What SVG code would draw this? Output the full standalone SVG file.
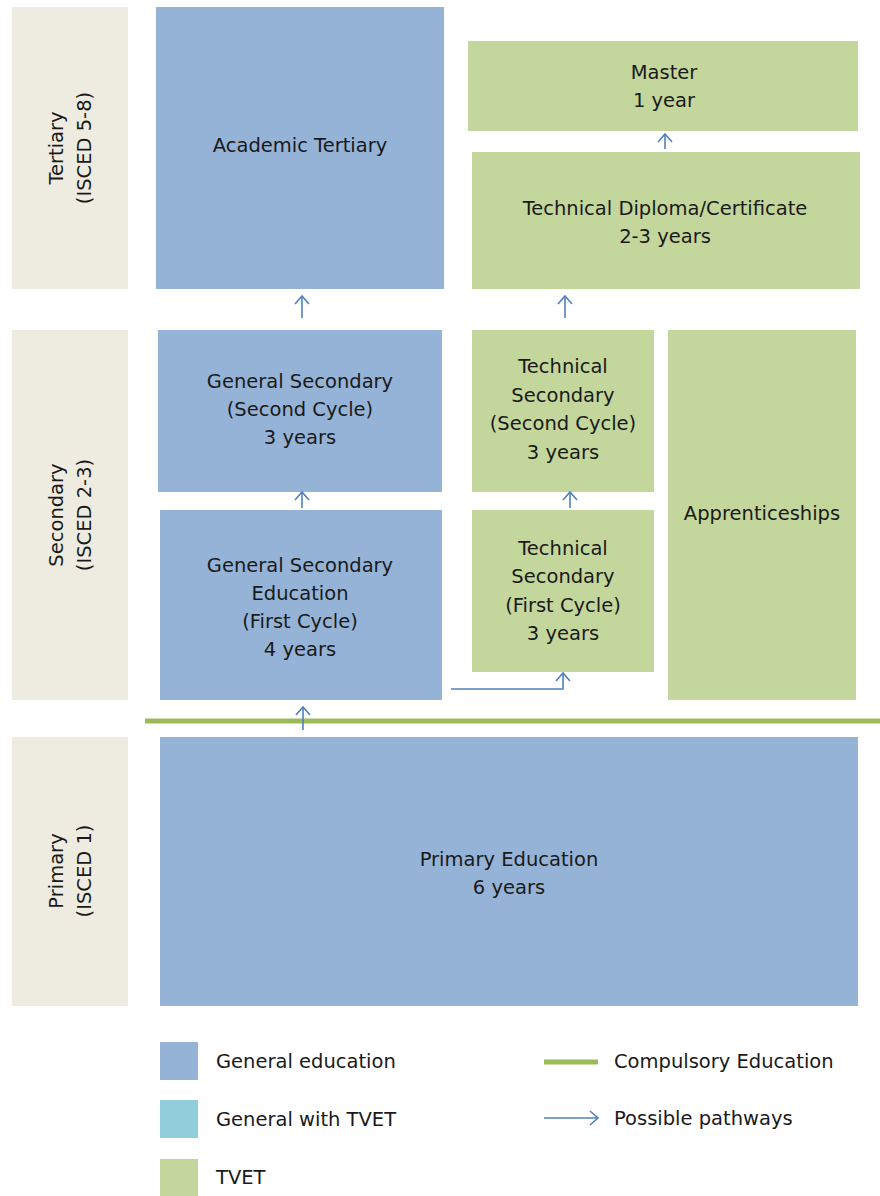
<svg xmlns="http://www.w3.org/2000/svg" width="880" height="1196" viewBox="0 0 880 1196">
<style>
text{font-family:"DejaVu Sans","Liberation Sans",sans-serif;font-size:19.5px;fill:#1a1a1a;text-anchor:middle}
.leg{text-anchor:start}
.gen{fill:#95B3D7}
.tvet{fill:#C3D69B}
.gtv{fill:#92CDDC}
.lvl{fill:#EEECE1}
.arr{fill:none;stroke:#4F81BD;stroke-width:1.6;marker-end:url(#ah)}
.comp{stroke:#9BBB59;stroke-width:5;fill:none}
</style>
<defs>
<marker id="ah" viewBox="-10 -10 20 20" markerUnits="userSpaceOnUse" markerWidth="20" markerHeight="20" refX="0" refY="0" orient="auto" overflow="visible">
<path d="M-8,-7 L0,0 L-8,7" fill="none" stroke="#4F81BD" stroke-width="1.6"/>
</marker>
</defs>
<rect width="880" height="1196" fill="#ffffff"/>

<g id="level-tertiary">
<rect class="lvl" x="12" y="7" width="116" height="282"/>
<text transform="translate(63,148) rotate(-90)">Tertiary</text>
<text transform="translate(91,148) rotate(-90)">(ISCED 5-8)</text>
</g>
<g id="level-secondary">
<rect class="lvl" x="12" y="330" width="116" height="370"/>
<text transform="translate(63,515) rotate(-90)">Secondary</text>
<text transform="translate(91,515) rotate(-90)">(ISCED 2-3)</text>
</g>
<g id="level-primary">
<rect class="lvl" x="12" y="737" width="116" height="269"/>
<text transform="translate(63,871) rotate(-90)">Primary</text>
<text transform="translate(91,871) rotate(-90)">(ISCED 1)</text>
</g>

<g id="academic-tertiary">
<rect class="gen" x="156" y="7" width="288" height="282"/>
<text x="300" y="152">Academic Tertiary</text>
</g>
<g id="master">
<rect class="tvet" x="468" y="41" width="390" height="90"/>
<text x="664" y="79">Master</text>
<text x="664" y="107">1 year</text>
</g>
<g id="technical-diploma">
<rect class="tvet" x="472" y="152" width="388" height="137"/>
<text x="665" y="215">Technical Diploma/Certificate</text>
<text x="665" y="243">2-3 years</text>
</g>
<g id="general-secondary-2">
<rect class="gen" x="158" y="330" width="284" height="162"/>
<text x="300" y="388">General Secondary</text>
<text x="300" y="416">(Second Cycle)</text>
<text x="300" y="444">3 years</text>
</g>
<g id="general-secondary-1">
<rect class="gen" x="160" y="510" width="282" height="190"/>
<text x="300" y="572">General Secondary</text>
<text x="300" y="600">Education</text>
<text x="300" y="628">(First Cycle)</text>
<text x="300" y="656">4 years</text>
</g>
<g id="technical-secondary-2">
<rect class="tvet" x="472" y="330" width="182" height="162"/>
<text x="563" y="373">Technical</text>
<text x="563" y="401.5">Secondary</text>
<text x="563" y="430">(Second Cycle)</text>
<text x="563" y="458.5">3 years</text>
</g>
<g id="technical-secondary-1">
<rect class="tvet" x="472" y="510" width="182" height="162"/>
<text x="563" y="555">Technical</text>
<text x="563" y="583.3">Secondary</text>
<text x="563" y="611.7">(First Cycle)</text>
<text x="563" y="640">3 years</text>
</g>
<g id="apprenticeships">
<rect class="tvet" x="668" y="330" width="188" height="370"/>
<text x="762" y="520">Apprenticeships</text>
</g>
<g id="primary-education">
<rect class="gen" x="160" y="737" width="698" height="269"/>
<text x="509" y="866">Primary Education</text>
<text x="509" y="894">6 years</text>
</g>

<g id="compulsory-line">
<line class="comp" x1="145" y1="721" x2="880" y2="721"/>
</g>

<g id="connectors">
<path class="arr" d="M302,318 V296"/>
<path class="arr" d="M565,318 V296"/>
<path class="arr" d="M665,149 V134"/>
<path class="arr" d="M302,508 V492"/>
<path class="arr" d="M570,508 V492"/>
<path class="arr" d="M303,730 V707"/>
<path class="arr" d="M451,689 H563 V673"/>
</g>

<g id="legend">
<rect class="gen" x="160" y="1042" width="38" height="38"/>
<text class="leg" x="216" y="1068">General education</text>
<rect class="gtv" x="160" y="1100" width="38" height="38"/>
<text class="leg" x="216" y="1126">General with TVET</text>
<rect class="tvet" x="160" y="1159" width="38" height="38"/>
<text class="leg" x="216" y="1184">TVET</text>
<line class="comp" x1="544" y1="1062" x2="598" y2="1062"/>
<text class="leg" x="614" y="1068">Compulsory Education</text>
<path class="arr" d="M544,1118 H598"/>
<text class="leg" x="614" y="1125">Possible pathways</text>
</g>
</svg>
